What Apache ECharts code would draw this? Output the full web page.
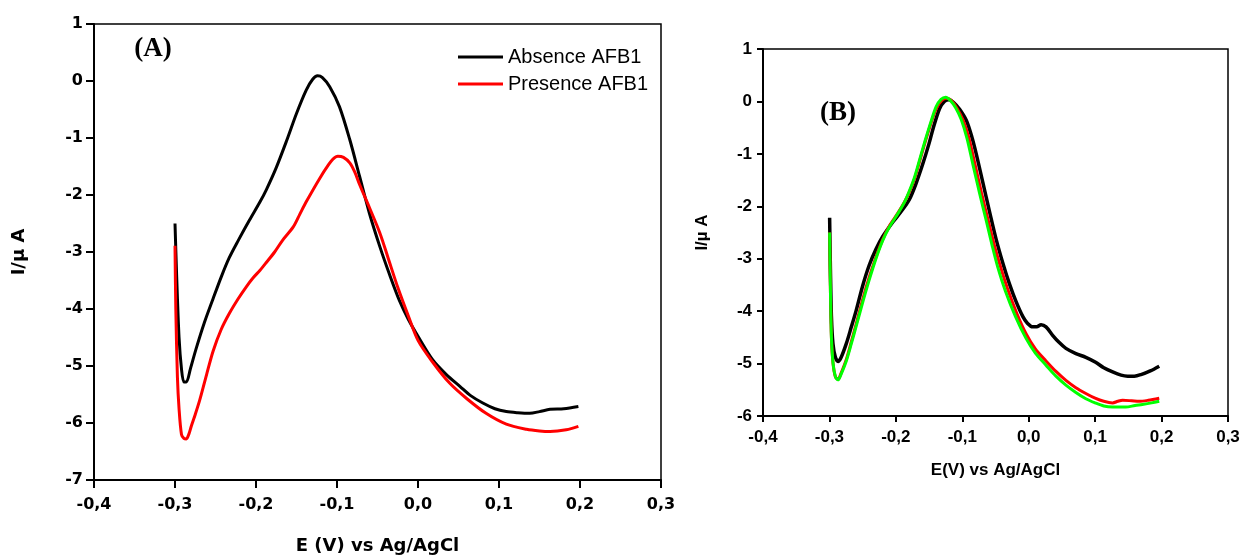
<!DOCTYPE html>
<html>
<head>
<meta charset="utf-8">
<script src="https://cdn.jsdelivr.net/npm/echarts@6/dist/echarts.min.js"></script>
<style>html,body{margin:0;padding:0;background:#fff}#c{width:1240px;height:557px}</style>
</head>
<body>
<div id="c"></div>
<script>
// ---------- Panel A data ----------
const aAbsenceX = [-0.300,-0.298,-0.295,-0.292,-0.289,-0.286,-0.281,-0.274,-0.264,-0.253,-0.243,-0.233,-0.222,-0.208,-0.195,-0.187,-0.175,-0.162,-0.150,-0.138,-0.130,-0.124,-0.118,-0.109,-0.097,-0.084,-0.072,-0.060,-0.047,-0.035,-0.023,-0.012,0.000,0.018,0.035,0.052,0.065,0.080,0.095,0.109,0.123,0.138,0.150,0.163,0.180,0.198];
const aAbsenceY = [-2.50,-3.40,-4.50,-5.05,-5.28,-5.28,-5.05,-4.70,-4.25,-3.82,-3.44,-3.10,-2.80,-2.44,-2.12,-1.90,-1.52,-1.04,-0.57,-0.16,0.03,0.09,0.06,-0.10,-0.45,-1.04,-1.68,-2.32,-2.91,-3.40,-3.85,-4.18,-4.48,-4.89,-5.15,-5.36,-5.52,-5.65,-5.75,-5.80,-5.82,-5.83,-5.80,-5.76,-5.75,-5.71];
const aPresenceX = [-0.300,-0.299,-0.297,-0.295,-0.292,-0.289,-0.286,-0.283,-0.280,-0.275,-0.2695,-0.261,-0.253,-0.243,-0.233,-0.222,-0.212,-0.204,-0.195,-0.187,-0.177,-0.167,-0.154,-0.146,-0.138,-0.121,-0.110,-0.105,-0.099,-0.092,-0.084,-0.078,-0.072,-0.060,-0.047,-0.037,-0.025,-0.012,0.000,0.018,0.039,0.060,0.084,0.109,0.134,0.150,0.163,0.183,0.198];
const aPresenceY = [-2.89,-4.00,-5.20,-5.75,-6.20,-6.27,-6.28,-6.20,-6.06,-5.85,-5.60,-5.15,-4.74,-4.36,-4.08,-3.82,-3.61,-3.46,-3.32,-3.18,-3.00,-2.79,-2.56,-2.34,-2.12,-1.70,-1.46,-1.37,-1.32,-1.34,-1.44,-1.60,-1.82,-2.22,-2.67,-3.10,-3.62,-4.12,-4.55,-4.93,-5.30,-5.57,-5.83,-6.02,-6.11,-6.14,-6.15,-6.12,-6.06];

// ---------- Panel B data ----------
const bBlackX = [-0.2997,-0.2985,-0.297,-0.2947,-0.291,-0.287,-0.283,-0.2746,-0.267,-0.2596,-0.2496,-0.240,-0.230,-0.220,-0.2045,-0.192,-0.180,-0.170,-0.1594,-0.150,-0.144,-0.1343,-0.127,-0.120,-0.113,-0.104,-0.094,-0.086,-0.079,-0.069,-0.059,-0.049,-0.039,-0.029,-0.019,-0.009,-0.002,0.006,0.012,0.0186,0.026,0.036,0.046,0.056,0.071,0.086,0.100,0.113,0.1263,0.139,0.149,0.159,0.169,0.183,0.1965];
const bBlackY = [-2.22,-3.20,-4.10,-4.62,-4.88,-4.96,-4.90,-4.62,-4.30,-3.98,-3.50,-3.12,-2.82,-2.58,-2.30,-2.10,-1.88,-1.58,-1.19,-0.80,-0.52,-0.14,0.00,0.03,-0.02,-0.15,-0.36,-0.66,-1.00,-1.55,-2.10,-2.63,-3.08,-3.48,-3.82,-4.10,-4.23,-4.30,-4.30,-4.26,-4.30,-4.46,-4.60,-4.71,-4.81,-4.88,-4.97,-5.08,-5.16,-5.22,-5.24,-5.24,-5.21,-5.14,-5.05];
const bRedX = [-0.2997,-0.2985,-0.297,-0.2945,-0.291,-0.287,-0.283,-0.2746,-0.267,-0.2596,-0.2496,-0.240,-0.230,-0.220,-0.210,-0.197,-0.187,-0.1794,-0.172,-0.1644,-0.156,-0.147,-0.1393,-0.131,-0.123,-0.116,-0.108,-0.099,-0.090,-0.081,-0.071,-0.061,-0.052,-0.043,-0.032,-0.018,-0.004,0.010,0.026,0.041,0.056,0.071,0.086,0.100,0.113,0.1263,0.134,0.1413,0.155,0.166,0.180,0.1965];
const bRedY = [-2.50,-3.60,-4.50,-5.00,-5.25,-5.30,-5.20,-4.92,-4.58,-4.24,-3.76,-3.35,-2.97,-2.64,-2.38,-2.13,-1.92,-1.72,-1.48,-1.15,-0.78,-0.41,-0.14,0.02,0.06,0.01,-0.13,-0.35,-0.70,-1.19,-1.75,-2.27,-2.73,-3.13,-3.57,-4.04,-4.43,-4.72,-4.95,-5.15,-5.32,-5.46,-5.57,-5.66,-5.72,-5.75,-5.72,-5.70,-5.71,-5.72,-5.70,-5.66];
const bGreenX = [-0.2997,-0.2985,-0.297,-0.2945,-0.291,-0.287,-0.283,-0.2746,-0.267,-0.2596,-0.2496,-0.240,-0.230,-0.220,-0.210,-0.197,-0.187,-0.1794,-0.172,-0.1644,-0.156,-0.147,-0.1393,-0.132,-0.125,-0.118,-0.110,-0.1017,-0.093,-0.0842,-0.074,-0.064,-0.055,-0.0466,-0.035,-0.020,-0.004,0.010,0.026,0.041,0.056,0.071,0.086,0.100,0.113,0.1263,0.146,0.160,0.171,0.185,0.1965];
const bGreenY = [-2.50,-3.60,-4.50,-5.00,-5.25,-5.31,-5.22,-4.95,-4.62,-4.28,-3.82,-3.40,-3.00,-2.66,-2.40,-2.14,-1.92,-1.70,-1.45,-1.12,-0.75,-0.38,-0.10,0.04,0.08,0.02,-0.12,-0.34,-0.70,-1.19,-1.75,-2.27,-2.75,-3.16,-3.62,-4.10,-4.52,-4.80,-5.03,-5.24,-5.41,-5.55,-5.67,-5.75,-5.81,-5.83,-5.83,-5.80,-5.78,-5.75,-5.72];

const legendNames = ['Absence AFB1', 'Presence AFB1'];
const panelLabels = ['(A)', '(B)'];
const xTitleA = 'E (V) vs Ag/AgCl';
const xTitleB = 'E(V) vs Ag/AgCl';
const yTitle = 'I/\u00b5 A';

function zip(xs, ys) { return xs.map((x, i) => [x, ys[i]]); }
const fmtX = v => v.toFixed(1).replace('.', ',');
const fmtY = v => String(Math.round(v));

function xAxisCfg(idx, font, size, margin, name, nameFont, nameSize, nameGap, tickLen) {
  return {
    gridIndex: idx, type: 'value', min: -0.4, max: 0.3, interval: 0.1,
    axisLine: { show: true, onZero: false, lineStyle: { color: '#000', width: 2 } },
    axisTick: { show: true, inside: false, length: tickLen, lineStyle: { color: '#000', width: 2 } },
    axisLabel: { formatter: fmtX, color: '#000', fontFamily: font, fontWeight: 'bold', fontSize: size, margin: margin },
    splitLine: { show: false },
    name: name, nameLocation: 'middle', nameGap: nameGap,
    nameTextStyle: { color: '#000', fontFamily: nameFont, fontWeight: 'bold', fontSize: nameSize }
  };
}
function yAxisCfg(idx, min, font, size, margin, nameFont, nameSize, nameGap, tickLen) {
  return {
    gridIndex: idx, type: 'value', min: min, max: 1, interval: 1,
    axisLine: { show: true, onZero: false, lineStyle: { color: '#000', width: 2 } },
    axisTick: { show: true, inside: false, length: tickLen, lineStyle: { color: '#000', width: 2 } },
    axisLabel: { formatter: fmtY, color: '#000', fontFamily: font, fontWeight: 'bold', fontSize: size, margin: margin },
    splitLine: { show: false },
    name: yTitle, nameLocation: 'middle', nameGap: nameGap,
    nameTextStyle: { color: '#000', fontFamily: nameFont, fontWeight: 'bold', fontSize: nameSize }
  };
}
function lineSeries(name, data, color, width, xi, z) {
  return {
    name: name, type: 'line', data: data, xAxisIndex: xi, yAxisIndex: xi,
    showSymbol: false, symbol: 'none', smooth: 0.3, z: z,
    lineStyle: { color: color, width: width }, itemStyle: { color: color }
  };
}

const chart = echarts.init(document.getElementById('c'), null, { renderer: 'canvas' });
chart.setOption({
  animation: false,
  backgroundColor: '#fff',
  grid: [
    { left: 94, top: 24, width: 567, height: 456, show: true, borderColor: '#000', borderWidth: 1.5, containLabel: false, outerBoundsMode: 'none' },
    { left: 763, top: 49, width: 465, height: 367, show: true, borderColor: '#000', borderWidth: 1.5, containLabel: false, outerBoundsMode: 'none' }
  ],
  xAxis: [
    xAxisCfg(0, 'DejaVu Sans', 16, 17, xTitleA, 'DejaVu Sans', 18, 57, 8),
    xAxisCfg(1, 'Liberation Sans', 17, 13, xTitleB, 'Liberation Sans', 17, 46, 6)
  ],
  yAxis: [
    yAxisCfg(0, -7, 'DejaVu Sans', 16, 11, 'DejaVu Sans', 18, 66, 8),
    yAxisCfg(1, -6, 'Liberation Sans', 17, 11, 'Liberation Sans', 17, 52, 6)
  ],
  legend: {
    data: legendNames, orient: 'vertical', left: 453, top: 42,
    itemWidth: 45, itemHeight: 3, itemGap: 7, icon: 'rect',
    textStyle: { color: '#000', fontFamily: 'Liberation Sans', fontSize: 20, lineHeight: 20 },
    selectedMode: false
  },
  graphic: [
    { type: 'text', x: 153, y: 49, style: { text: panelLabels[0], font: 'bold 27px "Liberation Serif"', fill: '#000', textAlign: 'center', textVerticalAlign: 'middle' } },
    { type: 'text', x: 838, y: 113, style: { text: panelLabels[1], font: 'bold 27px "Liberation Serif"', fill: '#000', textAlign: 'center', textVerticalAlign: 'middle' } }
  ],
  series: [
    lineSeries(legendNames[0], zip(aAbsenceX, aAbsenceY), '#000000', 3, 0, 3),
    lineSeries(legendNames[1], zip(aPresenceX, aPresenceY), '#ff0000', 3, 0, 4),
    lineSeries('B curve 1', zip(bBlackX, bBlackY), '#000000', 3.5, 1, 3),
    lineSeries('B curve 2', zip(bRedX, bRedY), '#ff0000', 3, 1, 4),
    lineSeries('B curve 3', zip(bGreenX, bGreenY), '#00ff00', 3, 1, 5)
  ]
});
</script>
</body>
</html>
